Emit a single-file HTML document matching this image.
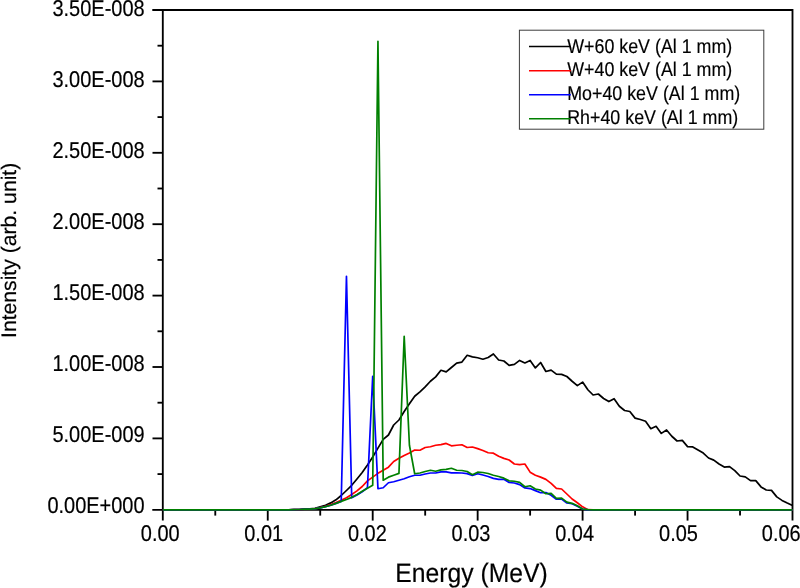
<!DOCTYPE html>
<html lang="en"><head><meta charset="utf-8"><title>X-ray spectra</title>
<style>html,body{margin:0;padding:0;background:#fff;}body{width:800px;height:588px;overflow:hidden;}svg{display:block;font-family:"Liberation Sans",Arial,sans-serif;text-rendering:geometricPrecision;}text{stroke:#000;stroke-width:0.18px;}.c{fill:none;stroke-width:1.7;stroke-linejoin:round;stroke-linecap:butt;}.ax{stroke:#000;stroke-width:1.85;fill:none;stroke-linecap:butt;}</style></head><body>
<svg width="800" height="588" viewBox="0 0 800 588">
<rect width="800" height="588" fill="#fff"/>
<g class="ax">
<path d="M152.30,10.00 H792.50 V520.60 M162.80,10.00 V520.60 M152.30,509.80 H792.50"/>
<path d="M157.50,474.10 H162.80"/>
<path d="M152.50,438.40 H162.80"/>
<path d="M157.50,402.70 H162.80"/>
<path d="M152.50,367.00 H162.80"/>
<path d="M157.50,331.30 H162.80"/>
<path d="M152.50,295.60 H162.80"/>
<path d="M157.50,259.90 H162.80"/>
<path d="M152.50,224.20 H162.80"/>
<path d="M157.50,188.50 H162.80"/>
<path d="M152.50,152.80 H162.80"/>
<path d="M157.50,117.10 H162.80"/>
<path d="M152.50,81.40 H162.80"/>
<path d="M157.50,45.70 H162.80"/>
<path d="M215.28,509.80 V515.60"/>
<path d="M267.75,509.80 V520.60"/>
<path d="M320.23,509.80 V515.60"/>
<path d="M372.70,509.80 V520.60"/>
<path d="M425.18,509.80 V515.60"/>
<path d="M477.65,509.80 V520.60"/>
<path d="M530.12,509.80 V515.60"/>
<path d="M582.60,509.80 V520.60"/>
<path d="M635.08,509.80 V515.60"/>
<path d="M687.55,509.80 V520.60"/>
<path d="M740.03,509.80 V515.60"/>
</g>
<polyline class="c" stroke="#000" points="162.80,509.80 168.05,509.80 173.30,509.80 178.54,509.80 183.79,509.80 189.04,509.80 194.29,509.80 199.53,509.80 204.78,509.80 210.03,509.80 215.28,509.80 220.52,509.80 225.77,509.80 231.02,509.80 236.27,509.80 241.51,509.80 246.76,509.80 252.01,509.80 257.25,509.80 262.50,509.80 267.75,509.80 273.00,509.80 278.25,509.80 283.49,509.80 288.74,509.80 293.99,509.60 299.24,509.50 304.48,509.20 309.73,508.80 314.98,508.30 320.23,506.70 325.47,505.20 330.72,502.90 335.97,499.80 341.22,495.50 346.46,490.50 351.71,485.30 356.96,479.00 362.21,472.50 367.45,465.00 372.70,457.00 377.95,448.10 383.20,439.40 388.44,435.00 393.69,425.00 398.94,420.00 404.19,411.50 409.43,403.75 414.68,396.25 419.93,391.90 425.18,386.90 430.42,381.25 435.67,376.90 440.92,370.25 446.17,371.90 451.41,367.50 456.66,363.10 461.91,362.10 467.16,355.25 472.40,356.90 477.65,357.75 482.90,359.25 488.15,357.50 493.39,354.00 498.64,360.00 503.89,361.00 509.14,365.40 514.38,364.40 519.63,360.40 524.88,362.90 530.12,360.40 535.37,367.90 540.62,362.50 545.87,371.50 551.12,370.10 556.36,374.10 561.61,374.40 566.86,376.50 572.11,381.25 577.35,385.60 582.60,382.10 587.85,389.75 593.10,395.00 598.34,394.00 603.59,398.50 608.84,401.60 614.09,398.75 619.33,406.25 624.58,410.50 629.83,411.50 635.08,418.10 640.32,419.50 645.57,421.25 650.82,428.75 656.07,426.25 661.31,433.40 666.56,430.00 671.81,436.25 677.06,441.00 682.30,440.40 687.55,446.60 692.80,446.90 698.05,450.00 703.29,453.10 708.54,458.00 713.79,460.10 719.04,464.00 724.28,467.10 729.53,466.60 734.78,470.60 740.03,476.00 745.27,476.90 750.52,480.60 755.77,480.60 761.02,486.90 766.26,490.00 771.51,490.40 776.76,496.90 782.01,500.40 787.25,503.10 792.50,505.60"/>
<polyline class="c" stroke="#ff0000" points="162.80,509.80 168.05,509.80 173.30,509.80 178.54,509.80 183.79,509.80 189.04,509.80 194.29,509.80 199.53,509.80 204.78,509.80 210.03,509.80 215.28,509.80 220.52,509.80 225.77,509.80 231.02,509.80 236.27,509.80 241.51,509.80 246.76,509.80 252.01,509.80 257.25,509.80 262.50,509.80 267.75,509.80 273.00,509.80 278.25,509.80 283.49,509.80 288.74,509.80 293.99,509.60 299.24,509.50 304.48,509.20 309.73,509.05 314.98,508.55 320.23,507.55 325.47,506.25 330.72,504.65 335.97,502.60 341.22,500.30 346.46,497.70 351.71,494.55 356.96,490.90 362.21,486.50 367.45,480.85 372.70,477.15 377.95,473.35 383.20,470.25 388.44,467.15 393.69,461.50 398.94,458.35 404.19,455.50 409.43,453.00 414.68,450.00 419.93,450.25 425.18,447.50 430.42,446.75 435.67,445.25 440.92,444.65 446.17,443.45 451.41,445.85 456.66,445.25 461.91,444.75 467.16,447.50 472.40,447.00 477.65,448.65 482.90,450.50 488.15,452.75 493.39,453.15 498.64,456.25 503.89,458.35 509.14,460.00 514.38,464.00 519.63,464.65 524.88,464.00 530.12,472.15 535.37,475.25 540.62,477.15 545.87,479.35 551.12,483.35 556.36,488.35 561.61,489.00 566.86,494.00 572.11,499.00 577.35,502.75 582.60,506.85 587.85,509.70 593.10,509.80 598.34,509.80 603.59,509.80 608.84,509.80 614.09,509.80 619.33,509.80 624.58,509.80 629.83,509.80 635.08,509.80 640.32,509.80 645.57,509.80 650.82,509.80 656.07,509.80 661.31,509.80 666.56,509.80 671.81,509.80 677.06,509.80 682.30,509.80 687.55,509.80 692.80,509.80 698.05,509.80 703.29,509.80 708.54,509.80 713.79,509.80 719.04,509.80 724.28,509.80 729.53,509.80 734.78,509.80 740.03,509.80 745.27,509.80 750.52,509.80 755.77,509.80 761.02,509.80 766.26,509.80 771.51,509.80 776.76,509.80 782.01,509.80 787.25,509.80 792.50,509.80"/>
<polyline class="c" stroke="#0000ff" points="162.80,509.80 168.05,509.80 173.30,509.80 178.54,509.80 183.79,509.80 189.04,509.80 194.29,509.80 199.53,509.80 204.78,509.80 210.03,509.80 215.28,509.80 220.52,509.80 225.77,509.80 231.02,509.80 236.27,509.80 241.51,509.80 246.76,509.80 252.01,509.80 257.25,509.80 262.50,509.80 267.75,509.80 273.00,509.80 278.25,509.80 283.49,509.80 288.74,509.80 293.99,509.60 299.24,509.50 304.48,509.20 309.73,509.05 314.98,508.55 320.23,507.85 325.47,506.65 330.72,505.25 335.97,503.40 341.22,501.40 346.46,276.25 351.71,497.85 356.96,494.90 362.21,491.75 367.45,487.55 372.70,376.25 377.95,488.75 383.20,487.75 388.44,482.75 393.69,481.75 398.94,480.25 404.19,478.75 409.43,476.75 414.68,475.25 419.93,475.25 425.18,474.00 430.42,473.00 435.67,473.00 440.92,471.95 446.17,471.95 451.41,472.85 456.66,472.95 461.91,473.00 467.16,473.65 472.40,475.50 477.65,473.75 482.90,475.00 488.15,476.50 493.39,478.35 498.64,479.35 503.89,479.25 509.14,482.50 514.38,483.00 519.63,484.65 524.88,487.95 530.12,488.55 535.37,490.65 540.62,492.75 545.87,492.50 551.12,495.25 556.36,499.25 561.61,499.00 566.86,503.00 572.11,503.75 577.35,506.25 582.60,509.00 587.85,509.80 593.10,509.80 598.34,509.80 603.59,509.80 608.84,509.80 614.09,509.80 619.33,509.80 624.58,509.80 629.83,509.80 635.08,509.80 640.32,509.80 645.57,509.80 650.82,509.80 656.07,509.80 661.31,509.80 666.56,509.80 671.81,509.80 677.06,509.80 682.30,509.80 687.55,509.80 692.80,509.80 698.05,509.80 703.29,509.80 708.54,509.80 713.79,509.80 719.04,509.80 724.28,509.80 729.53,509.80 734.78,509.80 740.03,509.80 745.27,509.80 750.52,509.80 755.77,509.80 761.02,509.80 766.26,509.80 771.51,509.80 776.76,509.80 782.01,509.80 787.25,509.80 792.50,509.80"/>
<polyline class="c" stroke="#008000" points="162.80,509.80 168.05,509.80 173.30,509.80 178.54,509.80 183.79,509.80 189.04,509.80 194.29,509.80 199.53,509.80 204.78,509.80 210.03,509.80 215.28,509.80 220.52,509.80 225.77,509.80 231.02,509.80 236.27,509.80 241.51,509.80 246.76,509.80 252.01,509.80 257.25,509.80 262.50,509.80 267.75,509.80 273.00,509.80 278.25,509.80 283.49,509.80 288.74,509.80 293.99,509.60 299.24,509.50 304.48,509.20 309.73,509.05 314.98,508.55 320.23,507.85 325.47,506.65 330.72,505.25 335.97,503.40 341.22,501.40 346.46,499.50 351.71,497.35 356.96,494.40 362.21,491.25 367.45,488.25 372.70,485.25 377.95,41.25 383.20,480.25 388.44,477.15 393.69,475.25 398.94,473.35 404.19,336.35 409.43,445.25 414.68,473.75 419.93,473.00 425.18,471.50 430.42,470.25 435.67,471.25 440.92,469.95 446.17,469.45 451.41,468.25 456.66,470.25 461.91,470.50 467.16,471.50 472.40,474.65 477.65,472.15 482.90,472.50 488.15,473.50 493.39,475.25 498.64,476.50 503.89,478.15 509.14,480.85 514.38,481.25 519.63,482.35 524.88,486.75 530.12,485.75 535.37,489.00 540.62,490.15 545.87,493.75 551.12,493.35 556.36,498.35 561.61,498.15 566.86,502.15 572.11,503.35 577.35,505.85 582.60,509.00 587.85,509.70 593.10,509.80 598.34,509.80 603.59,509.80 608.84,509.80 614.09,509.80 619.33,509.80 624.58,509.80 629.83,509.80 635.08,509.80 640.32,509.80 645.57,509.80 650.82,509.80 656.07,509.80 661.31,509.80 666.56,509.80 671.81,509.80 677.06,509.80 682.30,509.80 687.55,509.80 692.80,509.80 698.05,509.80 703.29,509.80 708.54,509.80 713.79,509.80 719.04,509.80 724.28,509.80 729.53,509.80 734.78,509.80 740.03,509.80 745.27,509.80 750.52,509.80 755.77,509.80 761.02,509.80 766.26,509.80 771.51,509.80 776.76,509.80 782.01,509.80 787.25,509.80 792.50,509.80"/>
<text transform="translate(144.6,513.00) scale(0.876,1)" font-size="22.8" text-anchor="end">0.00E+000</text>
<text transform="translate(144.6,442.00) scale(0.876,1)" font-size="22.8" text-anchor="end">5.00E-009</text>
<text transform="translate(144.6,371.00) scale(0.876,1)" font-size="22.8" text-anchor="end">1.00E-008</text>
<text transform="translate(144.6,300.00) scale(0.876,1)" font-size="22.8" text-anchor="end">1.50E-008</text>
<text transform="translate(144.6,229.00) scale(0.876,1)" font-size="22.8" text-anchor="end">2.00E-008</text>
<text transform="translate(144.6,158.00) scale(0.876,1)" font-size="22.8" text-anchor="end">2.50E-008</text>
<text transform="translate(144.6,87.00) scale(0.876,1)" font-size="22.8" text-anchor="end">3.00E-008</text>
<text transform="translate(144.6,15.90) scale(0.876,1)" font-size="22.8" text-anchor="end">3.50E-008</text>
<text transform="translate(160.25,540.6) scale(0.876,1)" font-size="22.8" text-anchor="middle">0.00</text>
<text transform="translate(263.70,540.6) scale(0.876,1)" font-size="22.8" text-anchor="middle">0.01</text>
<text transform="translate(367.40,540.6) scale(0.876,1)" font-size="22.8" text-anchor="middle">0.02</text>
<text transform="translate(471.00,540.6) scale(0.876,1)" font-size="22.8" text-anchor="middle">0.03</text>
<text transform="translate(574.60,540.6) scale(0.876,1)" font-size="22.8" text-anchor="middle">0.04</text>
<text transform="translate(678.50,540.6) scale(0.876,1)" font-size="22.8" text-anchor="middle">0.05</text>
<text transform="translate(781.30,540.6) scale(0.876,1)" font-size="22.8" text-anchor="middle">0.06</text>
<text transform="translate(471.5,582.3) scale(0.926,1)" font-size="26.7" text-anchor="middle">Energy (MeV)</text>
<text transform="translate(16.0,250.35) scale(0.97,0.976) rotate(-90)" font-size="21.7" text-anchor="middle">Intensity (arb. unit)</text>
<rect x="519.4" y="30.2" width="244.4" height="99.0" fill="#fff" stroke="#3c3c3c" stroke-width="1"/>
<text transform="translate(567.2,52.80) scale(0.892,1)" font-size="20.0">W+60 keV (Al 1 mm)</text>
<path d="M529,46.50 H570.8" stroke="#000" stroke-width="1.6" fill="none"/>
<text transform="translate(567.2,76.00) scale(0.892,1)" font-size="20.0">W+40 keV (Al 1 mm)</text>
<path d="M529,70.70 H570.8" stroke="#ff0000" stroke-width="1.6" fill="none"/>
<text transform="translate(567.2,99.75) scale(0.892,1)" font-size="20.0">Mo+40 keV (Al 1 mm)</text>
<path d="M529,94.80 H570.8" stroke="#0000ff" stroke-width="1.6" fill="none"/>
<text transform="translate(567.2,123.60) scale(0.892,1)" font-size="20.0">Rh+40 keV (Al 1 mm)</text>
<path d="M529,118.70 H570.8" stroke="#008000" stroke-width="1.6" fill="none"/>
</svg></body></html>
